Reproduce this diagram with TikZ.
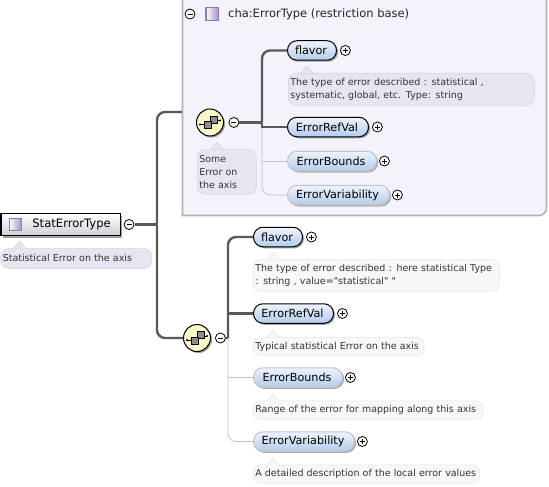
\documentclass[tikz,border=0pt]{standalone}
\usepackage{fontspec}
\setmainfont{DejaVu Sans}
\newfontfamily\notefont{DejaVu Sans}
\usetikzlibrary{
  positioning,
  shadows
}
\definecolor{basefill}{HTML}{F4F2FA}
\definecolor{baseline}{HTML}{B4B4B4}
\definecolor{boldwire}{HTML}{5A5A5A}
\definecolor{thinwire}{HTML}{C4C4C4}
\definecolor{elemtop}{HTML}{F0F4FC}
\definecolor{elembottom}{HTML}{B2CBEC}
\definecolor{notefill}{HTML}{E8E5F1}
\definecolor{notedraw}{HTML}{D8D5E4}
\definecolor{palefill}{HTML}{F8F8F8}
\definecolor{paledraw}{HTML}{E6E6E6}
\definecolor{seqfill}{HTML}{FDF9C8}
\definecolor{typedraw}{HTML}{8E78C0}
\tikzset{
  element/.style={
    rectangle, draw=black, top color=elemtop, bottom color=elembottom, rounded corners=9.5pt,
    anchor=west, minimum width=#1, minimum height=19.5pt, inner sep=0pt,
    font=\fontsize{11.2}{13}\selectfont, line width=1pt,
    execute at begin node={\kern-2pt},
    drop shadow={shadow xshift=1.5pt, shadow yshift=-1.5pt, fill=black!45, opacity=0.8}
  },
  optelement/.style={
    element=#1, draw=thinwire,
    drop shadow={shadow xshift=1.5pt, shadow yshift=-1.5pt, fill=black!30, opacity=0.8}
  },
  note/.style={
    rectangle, draw=notedraw, fill=notefill, rounded corners=8pt, anchor=north west,
    minimum height=#1, inner xsep=2pt, inner ysep=0pt, align=left, text=black!80,
    font=\notefont\fontsize{9.5}{13.2}\selectfont, line width=0.6pt
  },
  palenote/.style={note=#1, draw=paledraw, fill=palefill},
  minusbtn/.style={
    circle, draw=black, fill=white, minimum size=10pt, inner sep=0pt, line width=0.8pt,
    path picture={\draw[line width=0.8pt] ([xshift=-2.5pt]path picture bounding box.center) -- ([xshift=2.5pt]path picture bounding box.center);}
  },
  plusbtn/.style={
    minusbtn,
    path picture={
      \draw[line width=0.8pt] ([xshift=-2.5pt]path picture bounding box.center) -- ([xshift=2.5pt]path picture bounding box.center);
      \draw[line width=0.8pt] ([yshift=-2.5pt]path picture bounding box.center) -- ([yshift=2.5pt]path picture bounding box.center);
    }
  },
  typeicon/.style={
    rectangle, draw=typedraw, shading=axis, shading angle=135, left color=white, right color=typedraw!85, minimum size=12.5pt,
    inner sep=0pt, line width=1.3pt
  },
  seqnode/.style={
    circle, draw=black, fill=seqfill, minimum size=27pt, inner sep=0pt, line width=1pt,
    drop shadow={shadow xshift=1.5pt, shadow yshift=-1.5pt, fill=black!45, opacity=0.8}
  },
  boldwire/.style={draw=boldwire, line width=2.4pt, rounded corners=8pt},
  thinwire/.style={draw=thinwire, line width=0.8pt, rounded corners=8pt},
  seqicon/.pic={
    \draw[line width=0.9pt] (-10,2) -- (-4,2) (6,-2) -- (10,-2);
    \fill (-10,2) circle (1.2) (10,-2) circle (1.2);
    \draw[fill=black!45, line width=0.7pt] (0,-6.5) rectangle (7,0.7);
    \draw[fill=black!45, line width=0.7pt] (-5.5,-1) rectangle (1.5,6);
  }
}
\begin{document}
\begin{tikzpicture}[x=1pt, y=-1pt]
\useasboundingbox (0,0) rectangle (549,487);

% Restriction base panel
\draw[draw=baseline, fill=basefill, line width=1.6pt] (182.5,-4) -- (182.5,215.5) -- (539,215.5) to[out=0, in=90+180] (546.5,208) -- (546.5,-4) -- cycle;
\fill[left color=basefill, middle color=black!30, right color=basefill] (184,27) rectangle (458,30);
\coordinate (basein) at (182,112);

\node[minusbtn] (baseminus) at (190,14) {};
\node[typeicon, right=10pt of baseminus] (baseicon) {};
\node[anchor=west, inner sep=0pt, font=\fontsize{11.5}{13}\selectfont, text=black!85] (basetitle) at (228,14.5) {cha:ErrorType (restriction base)};

% Root
\node[rectangle, draw=black, top color=white, bottom color=notefill!90!black, anchor=west, minimum width=119pt, minimum height=22pt, inner sep=0pt, line width=1.2pt, font=\fontsize{11.6}{13}\selectfont, drop shadow={shadow xshift=2pt, shadow yshift=-2pt, fill=black!45, opacity=0.8}] (root) at (0.5,224.5) {\hspace*{22pt}StatErrorType};
\node[typeicon] (rooticon) at (15.5,224.5) {};
\node[minusbtn, right=3pt of root] (rootminus) {};
\node[note=20pt, text width=147pt, below=12pt of root.south west, anchor=north west] (rootnote) {Statistical Error on the axis};

% Sequence in the base
\node[seqnode] (seqtop) at (210,122.5) {};
\pic at (seqtop) {seqicon};
\node[minusbtn, right=4.5pt of seqtop] (seqtopminus) {};
\node[note=45pt, text width=55pt] (seqtopnote) at (197,149) {Some\\Error on\\the axis};

\node[element=49pt] (flavortop) at (287,50.5) {flavor};
\node[plusbtn, right=3pt of flavortop] (flavortopplus) {};
\node[note=32pt, text width=242pt] (flavortopnote) at (288,73) {The type of error described : statistical ,\\systematic, global, etc. Type: string};
\node[element=81pt] (refvaltop) at (287,127) {ErrorRefVal};
\node[plusbtn, right=3pt of refvaltop] (refvaltopplus) {};
\node[optelement=89pt] (boundstop) at (287,161) {ErrorBounds};
\node[plusbtn, right=2pt of boundstop] (boundstopplus) {};
\node[optelement=102pt] (variabtop) at (287,195) {ErrorVariability};
\node[plusbtn, right=2pt of variabtop] (variabtopplus) {};

\coordinate (jointop) at (262,122.5);
\draw[thinwire] (jointop) |- (variabtop.west);
\draw[thinwire] (jointop |- boundstop) -- (boundstop.west);
\draw[boldwire] (seqtopminus.east) -- (jointop);
\draw[boldwire] (jointop) |- (flavortop.west);
\draw[boldwire, rounded corners=0pt] (jointop) |- (refvaltop.west);

% Sequence below the root
\node[seqnode] (seqlow) at (197,338) {};
\pic at (seqlow) {seqicon};
\node[minusbtn, right=4pt of seqlow] (seqlowminus) {};

\node[element=49pt] (flavorlow) at (253,237) {flavor};
\node[plusbtn, right=3pt of flavorlow] (flavorlowplus) {};
\node[palenote=32pt, text width=242pt] (flavorlownote) at (253,259) {The type of error described : here statistical Type\\: string , value="statistical" "};
\node[element=80pt] (refvallow) at (253,313.5) {ErrorRefVal};
\node[plusbtn, right=3pt of refvallow] (refvallowplus) {};
\node[palenote=18.5pt, text width=167pt] (refvallownote) at (253,337) {Typical statistical Error on the axis};
\node[optelement=89pt] (boundslow) at (253,377.5) {ErrorBounds};
\node[plusbtn, right=2pt of boundslow] (boundslowplus) {};
\node[palenote=18.5pt, text width=226pt] (boundslownote) at (253,400.5) {Range of the error for mapping along this axis};
\node[optelement=101pt] (variablow) at (253,441.5) {ErrorVariability};
\node[plusbtn, right=2pt of variablow] (variablowplus) {};
\node[palenote=18.5pt, text width=222.5pt] (variablownote) at (253,464.5) {A detailed description of the local error values};

\coordinate (joinlow) at (228,338);
\draw[thinwire] (joinlow) |- (variablow.west);
\draw[thinwire] (joinlow |- boundslow) -- (boundslow.west);
\draw[boldwire, rounded corners=0pt] (seqlowminus.east) -- (joinlow);
\draw[boldwire] (joinlow) |- (flavorlow.west);
\draw[boldwire, rounded corners=0pt] (joinlow |- refvallow) -- (refvallow.west);

% Root wiring
\coordinate (joinroot) at (157,224.5);
\draw[boldwire] (rootminus.east) -- (joinroot);
\draw[boldwire] (joinroot) |- (basein);
\draw[boldwire] (joinroot) |- (seqlow.west);

% Note pointers
\foreach \nodename/\shift/\tipfill/\tipdraw in {rootnote/13/notefill/notedraw, seqtopnote/14/notefill/notedraw, flavortopnote/13/notefill/notedraw, flavorlownote/14/palefill/paledraw, refvallownote/14/palefill/paledraw, boundslownote/14/palefill/paledraw, variablownote/14/palefill/paledraw}{
  \fill[\tipfill] ([xshift=\shift pt]\nodename.north west) -- ++(6,-7) -- ++(6,7) -- cycle;
  \draw[draw=\tipdraw, line width=0.6pt] ([xshift=\shift pt]\nodename.north west) -- ++(6,-7) -- ++(6,7);
}
\end{tikzpicture}
\end{document}
